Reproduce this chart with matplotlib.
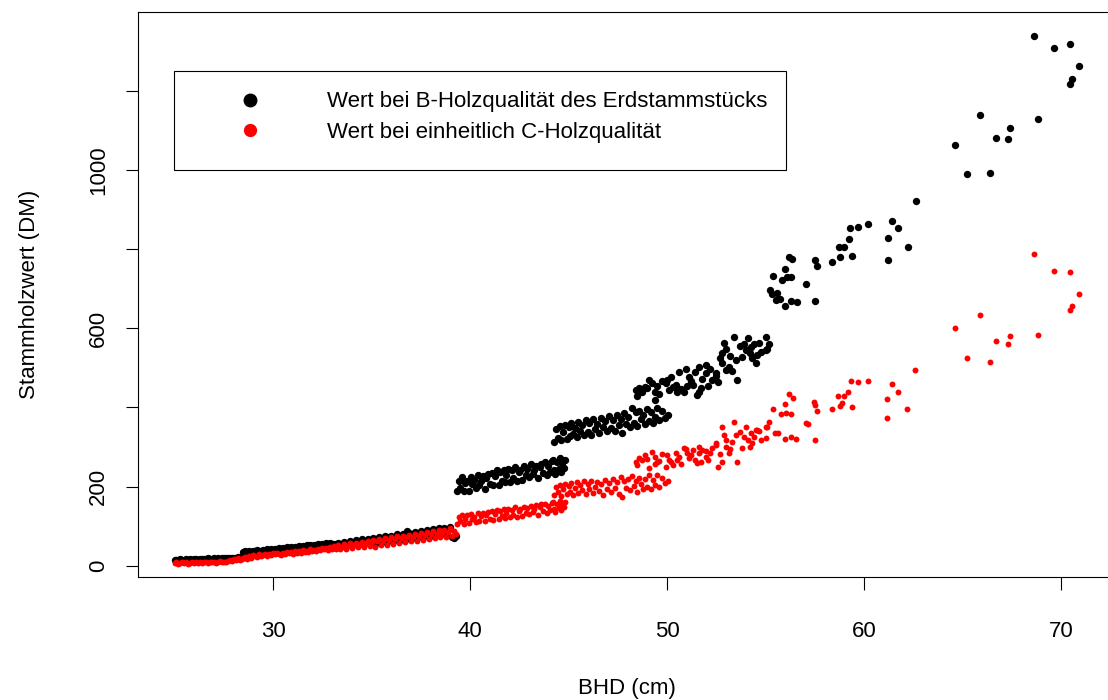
import matplotlib.pyplot as plt
from matplotlib.lines import Line2D
from matplotlib.patches import Rectangle

plt.rcParams['font.family'] = ['Liberation Sans', 'DejaVu Sans']

# BHD (cm) und Stammholzwert (DM) je Baum, gruppiert nach BHD-Bereich
# wert_b: B-Holzqualitaet des Erdstammstuecks, wert_c: einheitlich C-Holzqualitaet
bhd_a = [25.0, 25.1, 25.2, 25.3, 25.4, 25.5, 25.6, 25.7, 25.8, 25.9, 26.0, 26.1,
         26.2, 26.3, 26.4, 26.5, 26.6, 26.7, 26.8, 26.9, 27.0, 27.1, 27.2, 27.3,
         27.4, 27.5, 27.6, 27.7, 27.8, 27.9, 28.0, 28.1, 28.2, 28.3, 28.4]
wert_b_a = [14, 15, 14, 16, 15, 14, 16, 15, 16, 15, 17, 16, 15, 17, 16, 17, 16, 18,
            17, 16, 18, 17, 18, 17, 19, 18, 19, 18, 20, 19, 20, 19, 21, 20, 22]
wert_c_a = [6, 8, 5, 7, 9, 6, 8, 5, 7, 9, 6, 8, 7, 9, 6, 8, 10, 7, 9, 8, 10, 7, 9,
            11, 8, 10, 9, 12, 14, 11, 16, 13, 18, 15, 17]

bhd_b = [28.5, 28.6, 28.7, 28.8, 28.9, 29.0, 29.1, 29.2, 29.3, 29.4, 29.5, 29.6,
         29.7, 29.8, 29.9, 30.0, 30.1, 30.2, 30.3, 30.4, 30.5, 30.6, 30.7, 30.8,
         30.9, 31.0, 31.1, 31.2, 31.3, 31.4, 31.5, 31.6, 31.7, 31.8, 31.9, 32.0,
         32.1, 32.2, 32.3, 32.4, 32.5, 32.6, 32.7, 32.8, 32.9, 33.0]
wert_b_b = [34, 36, 33, 37, 35, 38, 36, 39, 37, 38, 40, 38, 41, 39, 42, 40, 43, 41,
            44, 42, 45, 43, 46, 44, 47, 45, 48, 46, 49, 47, 50, 48, 51, 49, 52, 50,
            53, 51, 54, 52, 55, 53, 56, 54, 57, 55]
wert_c_b = [18, 22, 16, 25, 20, 27, 23, 21, 28, 24, 26, 30, 25, 29, 27, 31, 28, 33,
            30, 27, 32, 29, 35, 31, 34, 30, 37, 33, 36, 32, 39, 35, 38, 34, 41, 37,
            40, 36, 43, 39, 45, 41, 44, 40, 47, 43]

bhd_c = [33.1, 33.2, 33.3, 33.4, 33.5, 33.6, 33.7, 33.8, 33.9, 34.0, 34.1, 34.2,
         34.3, 34.4, 34.5, 34.6, 34.7, 34.8, 34.9, 35.0, 35.1, 35.2, 35.3, 35.4,
         35.5, 35.6, 35.7, 35.8, 35.9, 36.0, 36.1, 36.2, 36.3, 36.4, 36.5, 36.6,
         36.7, 36.8, 36.9, 37.0, 37.1, 37.2, 37.3, 37.4, 37.5, 37.6, 37.7, 37.8,
         37.9, 38.0, 38.1, 38.2, 38.3, 38.4, 38.5, 38.6, 38.7, 38.8, 38.9, 39.0,
         39.1, 39.2, 39.3]
wert_b_c = [55, 48, 58, 50, 54, 60, 49, 57, 62, 51, 58, 64, 52, 61, 66, 54, 63, 68,
            56, 65, 70, 54, 67, 72, 57, 69, 74, 59, 71, 76, 61, 73, 79, 63, 75, 81,
            65, 88, 83, 67, 79, 86, 69, 81, 88, 71, 83, 90, 73, 85, 92, 75, 87, 95,
            77, 89, 96, 79, 91, 98, 72, 70, 74]
wert_c_c = [49, 41, 52, 43, 47, 54, 42, 50, 56, 45, 52, 58, 46, 55, 60, 48, 57, 62,
            49, 59, 65, 47, 61, 67, 51, 63, 69, 53, 65, 71, 55, 67, 74, 57, 69, 76,
            59, 71, 78, 61, 73, 81, 63, 75, 83, 65, 77, 85, 67, 79, 87, 69, 81, 89,
            71, 83, 91, 73, 85, 94, 75, 88, 80]

bhd_d = [39.35, 39.45, 39.5, 39.6, 39.7, 39.75, 39.85, 39.95,
         40.05, 40.1, 40.2, 40.3, 40.4, 40.45, 40.55, 40.65, 40.75, 40.8, 40.9,
         41.0, 41.1, 41.15, 41.25, 41.35, 41.45, 41.5, 41.6, 41.7, 41.8, 41.85, 41.95,
         42.05, 42.15, 42.2, 42.3, 42.4, 42.5, 42.55, 42.65, 42.75, 42.85, 42.9,
         43.0, 43.1, 43.2, 43.25, 43.35, 43.45, 43.55, 43.6, 43.7, 43.8, 43.9, 43.95,
         44.05, 44.15, 44.2, 44.25, 44.3, 44.4, 44.5, 44.55, 44.6, 44.65, 44.75, 44.8]
wert_b_d = [188, 215, 196, 223, 188, 208, 215, 188,
            223, 206, 217, 196, 229, 203, 215, 226, 195, 221, 231,
            207, 234, 205, 226, 241, 204, 236, 215, 242, 211, 230, 245,
            212, 241, 222, 250, 215, 238, 243, 216, 251, 229, 244,
            223, 256, 231, 242, 253, 222, 249, 258, 234, 261, 228, 253,
            236, 265, 268, 241, 232, 262, 244, 272, 238, 259, 248, 266]
wert_c_d = [106, 124, 112, 129, 104, 118, 127, 108,
            131, 117, 123, 110, 134, 114, 126, 132, 112, 128, 136,
            117, 138, 116, 130, 140, 118, 137, 125, 142, 121, 133, 144,
            123, 141, 129, 147, 124, 139, 143, 126, 149, 133, 145,
            130, 151, 136, 142, 153, 128, 147, 155, 137, 156, 134, 150,
            140, 158, 162, 143, 136, 157, 145, 163, 141, 155, 148, 160]

bhd_e = [44.25, 44.35, 44.45, 44.55, 44.6, 44.7, 44.8, 44.9,
         45.0, 45.1, 45.15, 45.25, 45.35, 45.45, 45.5, 45.6, 45.7, 45.8, 45.9,
         46.0, 46.05, 46.15, 46.25, 46.35, 46.45, 46.55, 46.65, 46.75, 46.85, 46.95,
         47.05, 47.15, 47.25, 47.35, 47.45, 47.55, 47.65, 47.7, 47.8, 47.9,
         48.0, 48.1, 48.2, 48.3, 48.4, 48.5, 48.6, 48.7, 48.8, 48.9,
         49.0, 49.1, 49.2, 49.3, 49.4, 49.5, 49.6, 49.75, 49.9, 50.05]
wert_b_e = [312, 345, 322, 352, 318, 338, 355, 320,
            350, 328, 361, 333, 347, 325, 364, 340, 356, 331, 368,
            338, 362, 330, 371, 345, 358, 336, 374, 350, 366, 341,
            378, 348, 369, 340, 382, 356, 372, 335, 386, 359,
            377, 350, 399, 361, 389, 354, 392, 370, 381, 357,
            396, 366, 388, 360, 377, 398, 369, 392, 374, 381]
wert_c_e = [178, 200, 185, 204, 176, 193, 206, 181,
            201, 187, 208, 179, 196, 211, 184, 203, 190, 213, 182,
            206, 195, 215, 183, 200, 212, 188, 207, 178, 216, 193,
            209, 186, 219, 197, 211, 181, 225, 174, 214, 196,
            220, 190, 226, 202, 215, 186, 222, 206, 195, 218,
            200, 228, 193, 216, 205, 230, 198, 221, 208, 214]

bhd_f = [48.4, 48.5, 48.6, 48.75, 48.9,
         49.0, 49.1, 49.26, 49.4, 49.4, 49.5, 49.6, 49.75, 49.94,
         50.0, 50.1, 50.2, 50.3, 50.45, 50.5, 50.6, 50.7, 50.87, 50.95,
         51.0, 51.1, 51.2, 51.3, 51.4, 51.5, 51.6, 51.6, 51.75, 51.8, 51.97,
         52.0, 52.1, 52.2, 52.3, 52.47, 52.5, 52.6, 52.7, 52.8, 52.8, 52.9, 52.98,
         53.0, 53.15, 53.2, 53.3, 53.4, 53.5, 53.57, 53.7, 53.8, 53.9,
         54.0, 54.1, 54.2, 54.25, 54.33, 54.4, 54.5, 54.58, 54.67, 54.75,
         55.0, 55.0, 55.1, 55.18]
wert_b_f = [444, 428, 449, 440, 452,
            450, 470, 461, 419, 440, 455, 433, 468, 461,
            470, 444, 476, 453, 458, 440, 491, 447, 440, 498,
            455, 478, 466, 457, 490, 432, 503, 440, 450, 472, 487,
            508, 455, 498, 470, 487, 480, 465, 525, 512, 537, 562, 495,
            548, 503, 530, 492, 579, 520, 470, 556, 529, 560,
            545, 575, 537, 552, 525, 560, 512, 533, 562, 540,
            579, 545, 548, 560]
wert_c_f = [262, 255, 271, 267, 280,
            270, 246, 288, 258, 275, 263, 265, 283, 250,
            279, 267, 262, 254, 286, 268, 275, 258, 297, 294,
            285, 271, 280, 292, 266, 259, 301, 284, 262, 293, 275,
            289, 268, 285, 297, 305, 310, 250, 282, 351, 263, 330, 301,
            318, 284, 296, 312, 364, 330, 263, 338, 297, 325,
            351, 318, 301, 335, 309, 326, 343, 343, 341, 318,
            350, 322, 351, 363]

bhd_g_b = [55.23, 55.35, 55.39, 55.52, 55.6, 55.72, 55.82, 55.99, 55.99, 56.1,
           56.2, 56.3, 56.3, 56.36, 56.58, 57.05, 57.5, 57.5, 57.6, 58.39,
           58.73, 58.8, 58.98, 59.23, 59.28, 59.4, 59.7, 60.2, 61.21, 61.21,
           61.4, 61.7, 62.23, 62.65]
wert_b_g = [697, 687, 733, 672, 690, 674, 723, 750, 658, 729,
            780, 730, 670, 775, 666, 712, 773, 670, 758, 767,
            805, 782, 807, 826, 855, 784, 858, 865, 828, 774,
            873, 855, 807, 923]
bhd_g_c = [55.38, 55.48, 55.65, 55.77, 55.97, 55.99, 56.02, 56.2, 56.28, 56.28,
           56.39, 56.56, 57.04, 57.15, 57.46, 57.5, 57.5, 57.6, 58.39, 58.7,
           58.78, 58.86, 58.98, 59.2, 59.32, 59.4, 59.69, 60.21, 61.18, 61.18,
           61.43, 61.73, 62.19, 62.61]
wert_c_g = [395, 336, 336, 384, 408, 320, 385, 434, 384, 326,
            425, 320, 360, 359, 413, 406, 318, 392, 395, 429,
            405, 411, 429, 440, 467, 402, 464, 467, 421, 374,
            459, 440, 395, 495]

bhd_h = [64.63, 65.24, 65.88, 66.42, 66.72, 67.31, 67.43, 68.65, 68.83, 69.66,
         70.44, 70.44, 70.56, 70.93]
wert_b_h = [1065, 990, 1140, 993, 1083, 1080, 1107, 1339, 1129, 1311,
            1320, 1218, 1231, 1265]
wert_c_h = [602, 525, 635, 515, 568, 560, 581, 788, 584, 746,
            742, 647, 657, 686]

labels = ["Wert bei B-Holzqualität des Erdstammstücks",
          "Wert bei einheitlich C-Holzqualität"]

x_b = bhd_a + bhd_b + bhd_c + bhd_d + bhd_e + bhd_f + bhd_g_b + bhd_h
y_b = wert_b_a + wert_b_b + wert_b_c + wert_b_d + wert_b_e + wert_b_f + wert_b_g + wert_b_h
x_c = bhd_a + bhd_b + bhd_c + bhd_d + bhd_e + bhd_f + bhd_g_c + bhd_h
y_c = wert_c_a + wert_c_b + wert_c_c + wert_c_d + wert_c_e + wert_c_f + wert_c_g + wert_c_h

fig = plt.figure(figsize=(11.08, 7.0), dpi=100)
ax = fig.add_axes([0.1248, 0.1757, 0.8824, 0.8072])

ax.scatter(x_b, y_b, s=28, c='black', linewidths=0)
ax.scatter(x_c, y_c, s=18, c='red', linewidths=0)

ax.set_xlim(23.16, 72.79)
ax.set_ylim(-29, 1401)
ax.set_xticks([30, 40, 50, 60, 70])
ax.set_yticks([0, 200, 400, 600, 800, 1000, 1200])
ax.set_yticklabels(['0', '200', '', '600', '', '1000', ''])
ax.tick_params(direction='out', length=9, width=0.8, labelsize=16, colors='black')
ax.tick_params(axis='x', pad=23)
ax.tick_params(axis='y', pad=12, labelrotation=90)
for lbl in ax.get_yticklabels():
    lbl.set_va('center')
for sp in ax.spines.values():
    sp.set_linewidth(0.8)

ax.set_xlabel('BHD (cm)', fontsize=16, va='center')
ax.xaxis.set_label_coords(0.5, -0.1965)
ax.set_ylabel('Stammholzwert (DM)', fontsize=16, va='center')
ax.yaxis.set_label_coords(-0.1108, 0.5)

handles = [Line2D([], [], ls='', marker='o', ms=9, color='black'),
           Line2D([], [], ls='', marker='o', ms=8.5, color='red')]
ax.legend(handles, labels, loc='upper left', bbox_to_anchor=(0.0915, 0.8593),
          frameon=False, fontsize=16, borderpad=0, borderaxespad=0,
          handlelength=2, handletextpad=2.47, labelspacing=0.41)
ax.add_patch(Rectangle((0.0365, 0.7204), 0.626, 0.1752, transform=ax.transAxes,
                       fill=False, lw=0.8, ec='black'))

fig.savefig('out.png', dpi=100)
